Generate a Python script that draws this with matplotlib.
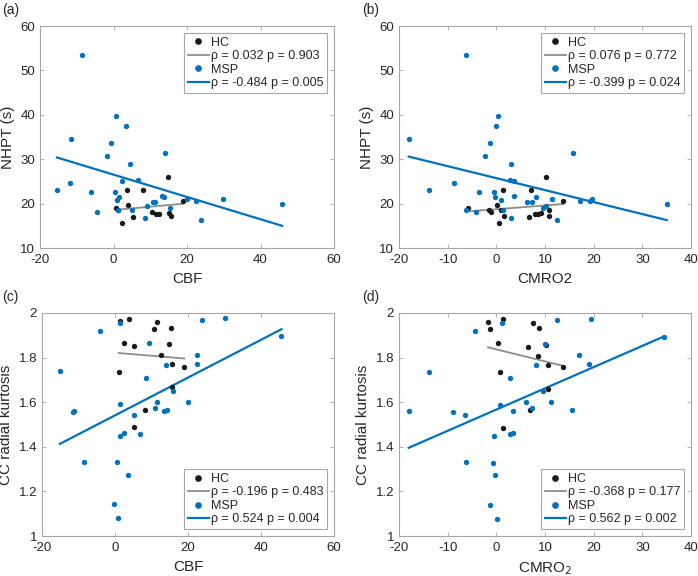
"""
Four-panel scatter: NHPT and CC radial kurtosis vs CBF / CMRO2,
HC vs MSP groups with linear fits (MATLAB-like styling).
"""
import numpy as np
import matplotlib
matplotlib.use("Agg")
import matplotlib.pyplot as plt
from matplotlib.lines import Line2D

plt.rcParams["font.family"] = ["Liberation Sans", "DejaVu Sans"]
plt.rcParams["axes.unicode_minus"] = False

# ---------------------------------------------------------------------------
# Data
# ---------------------------------------------------------------------------
# (a) NHPT vs CBF
a_hc_x = [14.8, 3.7, 8.1, 4.0, 0.6, 1.1, 5.2, 2.3, 10.5, 11.6, 12.3, 15.2, 15.7, 18.9]
a_hc_y = [26.0, 23.0, 23.0, 19.6, 19.1, 18.5, 17.0, 15.6, 18.1, 17.6, 17.6, 17.8, 17.3, 20.6]
a_msp_x = [-8.7, 0.6, 3.3, -11.5, -0.8, -1.8, 13.9, 4.6, 6.6, 2.2, -11.9, -15.4,
           -6.2, 0.4, 0.9, 1.4, -4.6, 1.2, 4.9, 9.2, 8.5, 10.7, 11.4, 13.3, 13.7,
           15.5, 19.9, 22.4, 29.9, 23.9, 45.9]
a_msp_y = [53.5, 39.8, 37.5, 34.5, 33.6, 30.7, 31.3, 28.9, 25.4, 25.0, 24.7, 23.0,
           22.6, 22.6, 20.9, 21.5, 18.1, 18.6, 18.6, 19.4, 16.8, 20.3, 20.3, 21.7, 21.5,
           19.0, 21.1, 20.5, 21.1, 16.4, 20.0]

# (b) NHPT vs CMRO2
b_hc_x = [10.2, 7.2, 1.4, -5.9, 0.2, -1.6, -1.0, 0.9, 1.5, 0.5, 6.7, 7.9, 8.5, 9.1,
          10.8, 10.9, 13.7]
b_hc_y = [26.0, 23.0, 23.0, 19.1, 19.7, 18.5, 18.1, 18.5, 17.2, 15.6, 16.9, 17.6,
          17.6, 17.9, 17.3, 18.6, 20.6]
b_msp_x = [-6.2, 0.3, -0.1, -18.0, -1.3, -2.3, 15.8, 3.0, 2.9, 3.6, -8.7, -13.9,
           -3.6, -0.5, -0.3, 0.9, 3.6, 8.2, 11.5, 7.4, 6.2, 10.2, 9.6, 1.3, -6.3,
           -4.1, 3.0, 12.5, 17.1, 19.2, 19.6, 35.0]
b_msp_y = [53.5, 39.8, 37.5, 34.5, 33.6, 30.7, 31.3, 28.9, 25.4, 25.0, 24.7, 23.0,
           22.6, 22.6, 21.5, 20.8, 21.8, 21.5, 21.1, 20.3, 20.3, 19.4, 19.1, 18.6, 18.6,
           18.1, 16.8, 16.4, 20.5, 20.5, 21.1, 20.0]

# (c) CC radial kurtosis vs CBF
c_hc_x = [1.4, 3.8, 11.6, 10.6, 15.3, 2.5, 5.3, 14.8, 12.5, 15.7, 19.0, 1.0, 15.7,
          8.2, 5.3]
c_hc_y = [1.963, 1.973, 1.960, 1.927, 1.934, 1.867, 1.851, 1.860, 1.812, 1.772,
          1.760, 1.736, 1.666, 1.564, 1.487]
c_msp_x = [1.5, 23.9, 30.0, -4.2, 9.3, 22.5, 22.5, 13.9, 45.6, -15.1, 8.5, 15.8,
           11.5, 19.9, 1.4, 10.9, 13.5, 14.2, -11.5, -11.1, 5.2, 2.5, 1.5, 6.9,
           -8.4, 0.6, 3.6, -0.4, 0.8]
c_msp_y = [1.955, 1.970, 1.976, 1.919, 1.864, 1.813, 1.773, 1.769, 1.896, 1.739,
           1.710, 1.651, 1.603, 1.603, 1.591, 1.576, 1.561, 1.563, 1.555, 1.560,
           1.542, 1.461, 1.449, 1.458, 1.334, 1.330, 1.273, 1.142, 1.079]

# (d) CC radial kurtosis vs CMRO2
d_hc_x = [-1.7, 1.4, 7.6, -1.2, 8.8, 0.4, 6.6, 10.2, 8.5, 10.6, 13.7, 0.8, 10.7,
          7.0, 1.4]
d_hc_y = [1.960, 1.972, 1.957, 1.927, 1.933, 1.867, 1.848, 1.857, 1.809, 1.769,
          1.758, 1.734, 1.660, 1.563, 1.485]
d_msp_x = [1.2, 12.4, 19.4, -4.3, 10.0, 16.9, 19.0, 8.1, 34.5, -13.8, 2.9, 9.5,
           6.1, 11.3, 0.8, 7.3, 3.4, 15.6, -18.0, -8.9, -6.5, 2.9, -0.5, 3.5,
           -6.2, -0.7, -0.3, -1.4, 0.2]
d_msp_y = [1.954, 1.969, 1.975, 1.918, 1.863, 1.812, 1.773, 1.767, 1.894, 1.737,
           1.710, 1.649, 1.601, 1.601, 1.588, 1.575, 1.560, 1.563, 1.560, 1.554,
           1.542, 1.457, 1.448, 1.460, 1.333, 1.327, 1.273, 1.140, 1.078]

# Linear fits (slope, intercept)
a_fit = {"hc": (0.0753, 18.55), "msp": (-0.2512, 26.53)}
b_fit = {"hc": (0.085, 18.74), "msp": (-0.2698, 25.74)}
c_fit = {"hc": (-0.00137, 1.822), "msp": (0.00847, 1.541)}
d_fit = {"hc": (-0.00539, 1.837), "msp": (0.00952, 1.567)}

a_labels = ["\u03c1 = 0.032 p = 0.903", "\u03c1 = -0.484 p = 0.005"]
b_labels = ["\u03c1 = 0.076 p = 0.772", "\u03c1 = -0.399 p = 0.024"]
c_labels = ["\u03c1 = -0.196 p = 0.483", "\u03c1 = 0.524 p = 0.004"]
d_labels = ["\u03c1 = -0.368 p = 0.177", "\u03c1 = 0.562 p = 0.002"]

HC_COLOR = "#1a1a1a"
HC_LINE = "#8c8c8c"
MSP_COLOR = "#0072BD"
SPINE = "#a6a6a6"
TXT = "#262626"


def panel(ax, hc_x, hc_y, msp_x, msp_y, fit, labels, legend_loc):
    ax.scatter(hc_x, hc_y, s=15, color=HC_COLOR, linewidths=0, zorder=3)
    ax.scatter(msp_x, msp_y, s=15, color=MSP_COLOR, linewidths=0, zorder=3)

    xh = np.array([min(hc_x), max(hc_x)])
    m, b = fit["hc"]
    ax.plot(xh, m * xh + b, color=HC_LINE, lw=1.3, zorder=2)
    xm = np.array([min(msp_x), max(msp_x)])
    m, b = fit["msp"]
    ax.plot(xm, m * xm + b, color=MSP_COLOR, lw=1.6, zorder=2)

    handles = [
        Line2D([], [], ls="none", marker="o", ms=3.8, color=HC_COLOR),
        Line2D([], [], color=HC_LINE, lw=1.3),
        Line2D([], [], ls="none", marker="o", ms=3.8, color=MSP_COLOR),
        Line2D([], [], color=MSP_COLOR, lw=1.6),
    ]
    leg = ax.legend(handles, ["HC", labels[0], "MSP", labels[1]],
                    loc=legend_loc, fontsize=9, handlelength=1.7,
                    handletextpad=0.15, labelspacing=0.12, borderpad=0.3,
                    borderaxespad=0.55, fancybox=False, framealpha=1)
    leg.get_frame().set_edgecolor(SPINE)
    leg.get_frame().set_linewidth(0.8)
    for t in leg.get_texts():
        t.set_color(TXT)

    ax.tick_params(direction="in", top=True, right=True, labelsize=9.5,
                   length=3, width=0.6, color=SPINE, labelcolor=TXT)
    ax.tick_params(axis="x", pad=4.5)
    for sp in ax.spines.values():
        sp.set_color(SPINE)
        sp.set_linewidth(0.8)


fig = plt.figure(figsize=(6.98, 5.76), dpi=100)
ax_a = fig.add_axes([40 / 698, 0.5694, 294 / 698, 0.3854])
ax_b = fig.add_axes([399 / 698, 0.5694, 292 / 698, 0.3854])
ax_c = fig.add_axes([42 / 698, 0.0694, 292 / 698, 0.3872])
ax_d = fig.add_axes([399 / 698, 0.0694, 292 / 698, 0.3872])

panel(ax_a, a_hc_x, a_hc_y, a_msp_x, a_msp_y, a_fit, a_labels, "upper right")
panel(ax_b, b_hc_x, b_hc_y, b_msp_x, b_msp_y, b_fit, b_labels, "upper right")
panel(ax_c, c_hc_x, c_hc_y, c_msp_x, c_msp_y, c_fit, c_labels, "lower right")
panel(ax_d, d_hc_x, d_hc_y, d_msp_x, d_msp_y, d_fit, d_labels, "lower right")

for ax in (ax_a, ax_c):
    ax.set_xlim(-20, 60)
    ax.set_xticks([-20, 0, 20, 40, 60])
for ax in (ax_b, ax_d):
    ax.set_xlim(-20, 40)
    ax.set_xticks([-20, -10, 0, 10, 20, 30, 40])
for ax in (ax_a, ax_b):
    ax.set_ylim(10, 60)
    ax.set_yticks([10, 20, 30, 40, 50, 60])
    ax.set_ylabel("NHPT (s)", fontsize=11, color=TXT)
for ax in (ax_c, ax_d):
    ax.set_ylim(1, 2)
    ax.set_yticks([1, 1.2, 1.4, 1.6, 1.8, 2])
    ax.set_yticklabels(["1", "1.2", "1.4", "1.6", "1.8", "2"])
    ax.set_ylabel("CC radial kurtosis", fontsize=11, color=TXT)

ax_a.set_xlabel("CBF", fontsize=11, color=TXT)
ax_b.set_xlabel("CMRO2", fontsize=11, color=TXT)
ax_c.set_xlabel("CBF", fontsize=11, color=TXT)
ax_d.set_xlabel("CMRO$_2$", fontsize=11, color=TXT)

for lbl, x, y in [("(a)", 0.003, 0.982), ("(b)", 0.519, 0.982),
                  ("(c)", 0.003, 0.484), ("(d)", 0.519, 0.484)]:
    fig.text(x, y, lbl, fontsize=10, va="center", ha="left", color=TXT)

fig.savefig("out.png", dpi=100)
plt.close("all")
